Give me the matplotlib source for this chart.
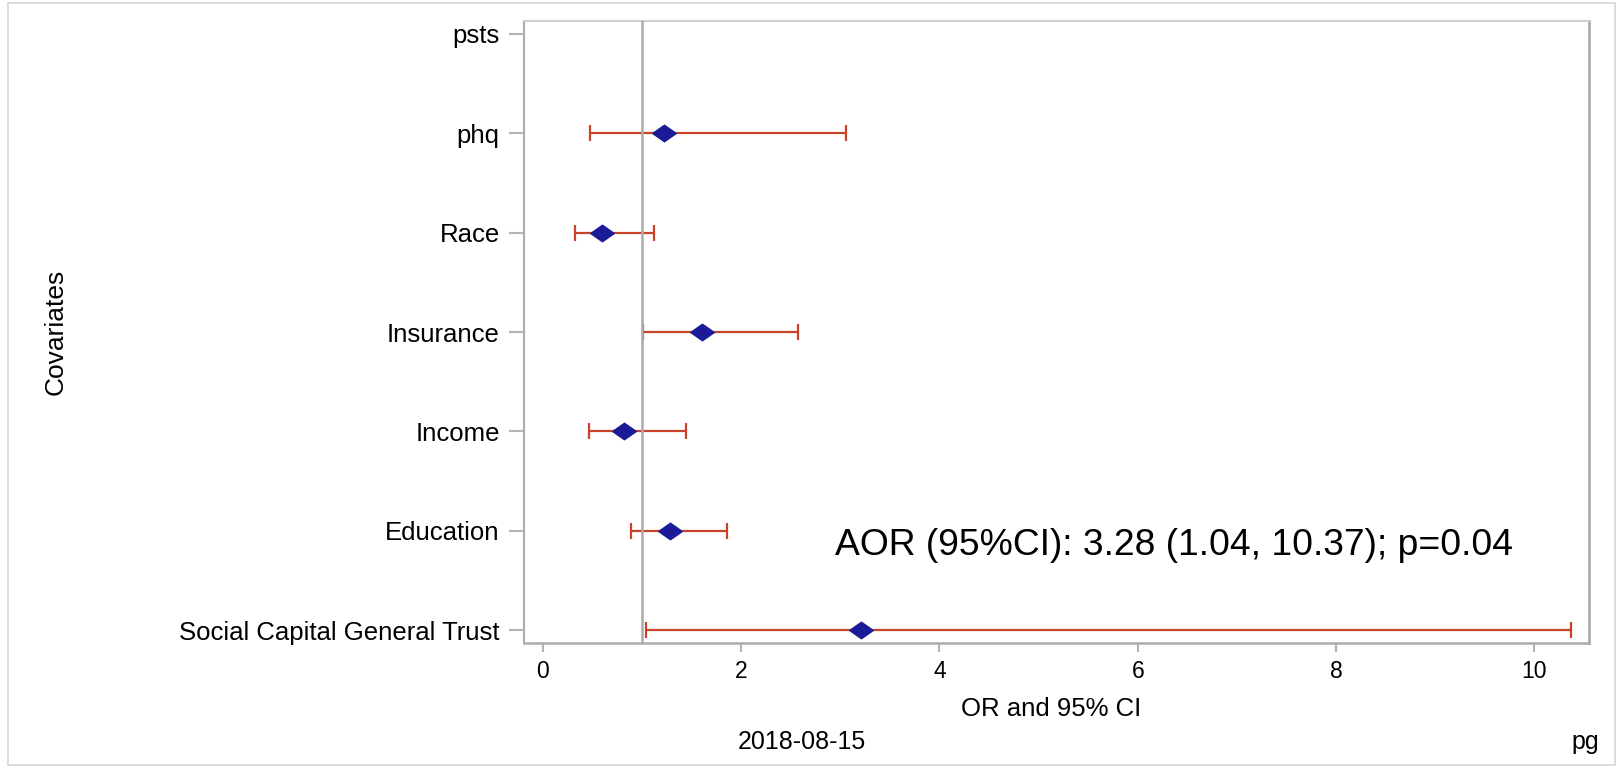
import numpy as np
import matplotlib
matplotlib.use("Agg")
import matplotlib.pyplot as plt
from matplotlib import font_manager
from matplotlib.patches import Rectangle

# ---- data ----
covariates = ["psts", "phq", "Race", "Insurance", "Income", "Education",
              "Social Capital General Trust"]
odds_ratio = [np.nan, 1.22, 0.60, 1.61, 0.82, 1.28, 3.21]
ci_lower = [np.nan, 0.48, 0.32, 1.01, 0.47, 0.89, 1.04]
ci_upper = [np.nan, 3.06, 1.12, 2.57, 1.44, 1.86, 10.37]
x_ticks = [0, 2, 4, 6, 8, 10]
ref_value = 1.0
annotation = "AOR (95%CI): 3.28 (1.04, 10.37); p=0.04"

# ---- fonts ----
available = {f.name for f in font_manager.fontManager.ttflist}
main_font = "Liberation Sans" if "Liberation Sans" in available else "DejaVu Sans"
narrow_font = main_font
for cand in ["Liberation Sans Narrow", "DejaVu Sans Condensed"]:
    if cand in available:
        narrow_font = cand
        break
plt.rcParams["font.family"] = [main_font, "DejaVu Sans"]

W, H = 1617, 768
fig = plt.figure(figsize=(W / 100, H / 100), dpi=100)

# outer light frame
fig.patches.append(Rectangle((8 / W, 3 / H), (1615 - 8) / W, (765 - 3) / H,
                             transform=fig.transFigure, fill=False,
                             edgecolor="#d4d4d4", linewidth=1.2))

left, right, top, bottom = 524, 1589, 21, 643
ax = fig.add_axes([left / W, 1 - bottom / H, (right - left) / W, (bottom - top) / H])

y = np.arange(len(covariates))
orv = np.array(odds_ratio)
lo = np.array(ci_lower)
hi = np.array(ci_upper)
mask = ~np.isnan(orv)

err_color = "#c8432a"
ax.errorbar(orv[mask], y[mask], xerr=[orv[mask] - lo[mask], hi[mask] - orv[mask]],
            fmt="none", ecolor=err_color, elinewidth=1.6, capsize=5.8,
            capthick=1.6, zorder=2)
ax.axvline(ref_value, color="#ababab", linewidth=1.8, zorder=3)
diamond = [(-1, 0), (0, 0.7), (1, 0), (0, -0.7), (-1, 0)]
ax.plot(orv[mask], y[mask], linestyle="none", marker=diamond, markersize=17,
        markerfacecolor="#1b1b98", markeredgecolor="#1b1b98", zorder=4)

ax.set_xlim(-0.19, 10.55)
ax.set_ylim(len(covariates) - 1 + 0.13, -0.13)
ax.set_xticks(x_ticks)
ax.set_xticklabels([str(t) for t in x_ticks])
ax.set_yticks(y)
ax.set_yticklabels(covariates)

ax.tick_params(axis="y", length=11, width=1.5, color="#b4b4b4", pad=6.5,
               labelsize=18.5, labelcolor="black")
ax.tick_params(axis="x", length=6.5, width=1.5, color="#b4b4b4", pad=6,
               labelsize=16.5, labelcolor="black")
for name, sp in ax.spines.items():
    sp.set_color("#acacac")
    sp.set_linewidth(1.5)
ax.spines["top"].set_color("#cfcfcf")
ax.spines["right"].set_linewidth(2.0)
ax.spines["bottom"].set_linewidth(1.8)

ax.text(2.95, 5.245, annotation, ha="left", va="baseline", fontsize=26.8,
        color="black", zorder=5)

# axis titles and footnotes
fig.text(1051 / W, 1 - 709 / H, "OR and 95% CI", ha="center", va="center",
         fontsize=18.5)
fig.text(56 / W, 1 - 332 / H, "Covariates", ha="center", va="center",
         rotation=90, fontsize=19, family=[narrow_font, "DejaVu Sans"])
fig.text(802 / W, 1 - 742 / H, "2018-08-15", ha="center", va="center",
         fontsize=18)
fig.text(1585 / W, 1 - 742 / H, "pg", ha="center", va="center", fontsize=18)

fig.savefig("out.png", dpi=100)
